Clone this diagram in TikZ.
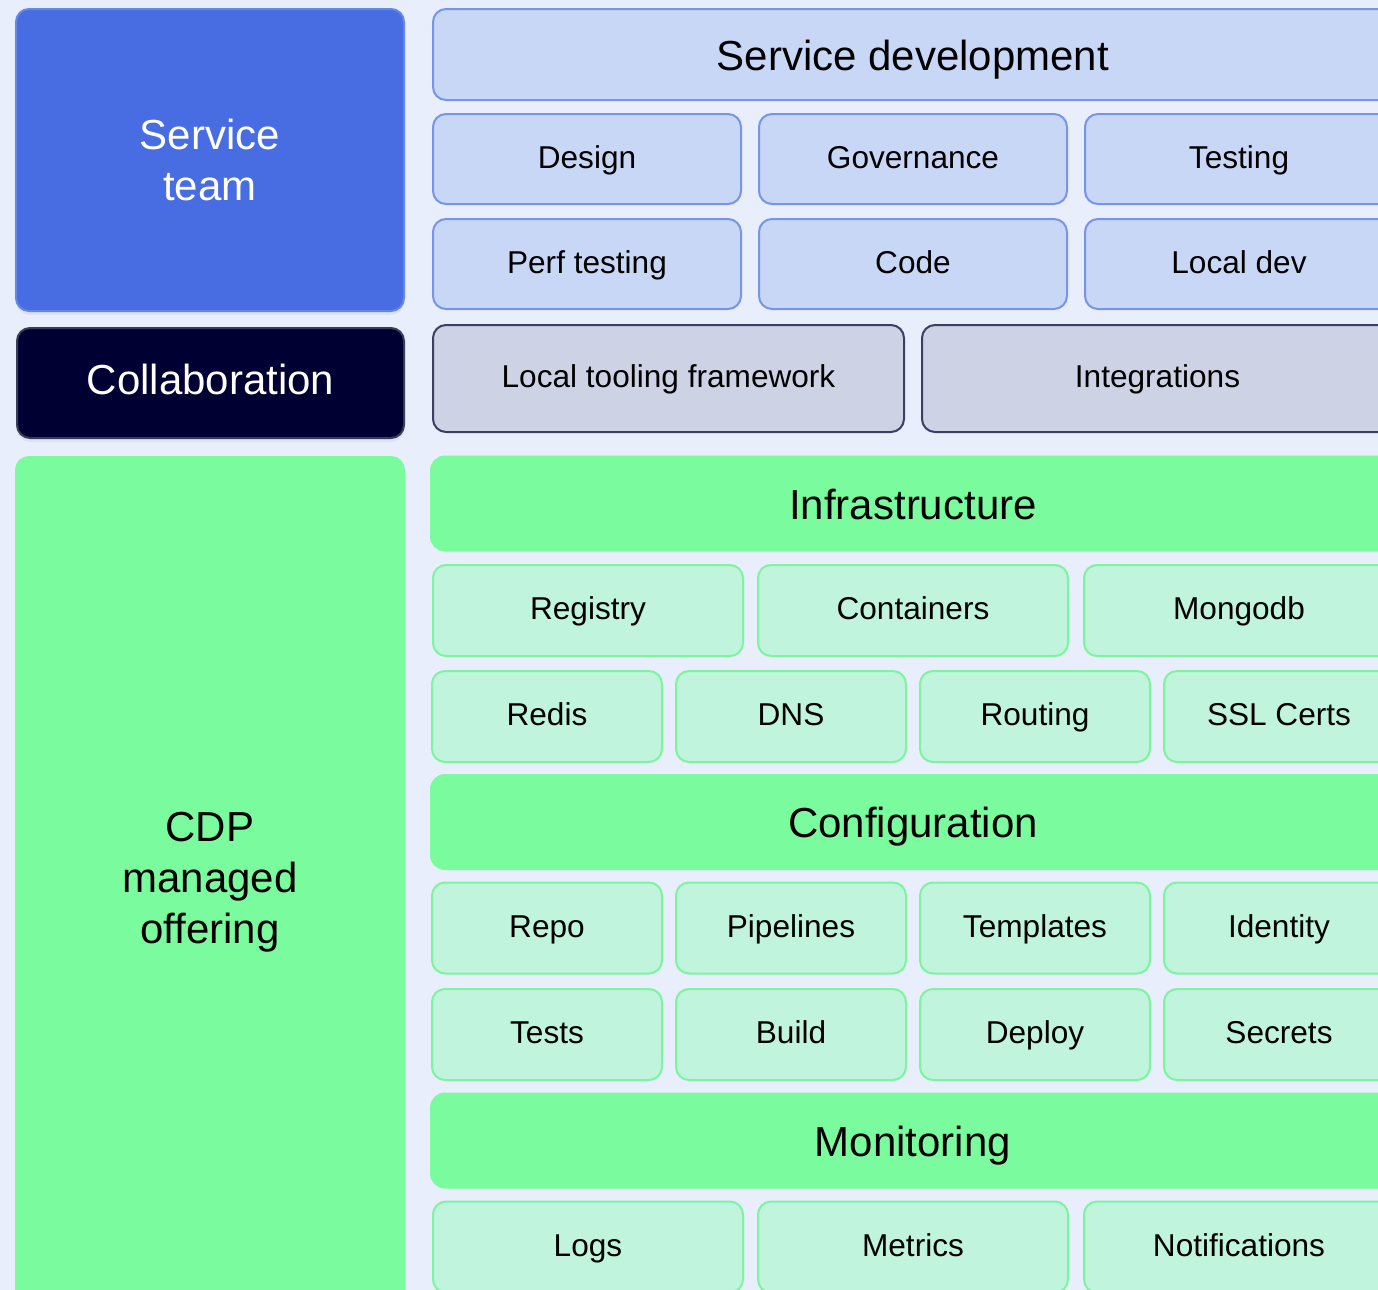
\documentclass[tikz,border=0pt]{standalone}
\usepackage{fontspec}
\setmainfont{Liberation Sans}
\usetikzlibrary{shadows}

\definecolor{pagebg}{HTML}{E8EEFB}
\definecolor{teamblue}{HTML}{486DE3}
\definecolor{teamedge}{HTML}{6486E6}
\definecolor{navy}{HTML}{000033}
\definecolor{navyedge}{HTML}{3A3C5C}
\definecolor{devfill}{HTML}{C9D7F7}
\definecolor{devedge}{HTML}{7794EB}
\definecolor{toolfill}{HTML}{CDD3E5}
\definecolor{tooledge}{HTML}{3B3F63}
\definecolor{cdpgreen}{HTML}{7AFC9E}
\definecolor{softgreen}{HTML}{C0F4DC}
\definecolor{greenedge}{HTML}{7CF59E}

\tikzset{
    base/.style={rectangle, rounded corners=6.5pt, line width=1pt, align=center, inner sep=0pt},
    bigfont/.style={font=\fontsize{21}{25.5}\selectfont},
    smallfont/.style={font=\fontsize{15.8}{19}\selectfont},
    bigline/.style={bigfont, text height=19.3pt, text depth=3.8pt},
    smallline/.style={smallfont, text height=13.2pt, text depth=3.8pt},
    sideshadow/.style={drop shadow={shadow xshift=0pt, shadow yshift=-2pt, opacity=0.1}},
    teambox/.style={base, sideshadow, fill=teamblue, draw=teamedge, text=white, bigfont},
    collabbox/.style={base, sideshadow, fill=navy, draw=navyedge, text=white, bigfont, text height=14.9pt, text depth=3.8pt},
    cdpbox/.style={base, sideshadow, fill=cdpgreen, draw=cdpgreen, text=black, bigfont},
    devhead/.style={base, fill=devfill, draw=devedge, bigline},
    devitem/.style={base, fill=devfill, draw=devedge, smallline, minimum width=154pt, minimum height=45pt},
    toolitem/.style={base, fill=toolfill, draw=tooledge, smallline, minimum width=235.5pt, minimum height=53.5pt},
    grouphead/.style={base, rounded corners=7pt, fill=cdpgreen, draw=cdpgreen, bigline, minimum width=482pt, minimum height=47pt},
    wideitem/.style={base, fill=softgreen, draw=greenedge, smallline, minimum width=155pt, minimum height=45.5pt},
    narrowitem/.style={base, fill=softgreen, draw=greenedge, smallline, minimum width=115pt, minimum height=45.5pt}
}

\begin{document}
\begin{tikzpicture}[x=0.5pt, y=-0.5pt]
    \useasboundingbox (0,0) rectangle (1378,1290);
    \clip (0,0) rectangle (1378,1290);
    \fill[pagebg] (0,0) rectangle (1378,1290);

    % Left column
    \node[teambox, minimum width=194pt, minimum height=151pt] (team) at (210,160) {Service\\team};
    \node[collabbox, minimum width=193.5pt, minimum height=55pt] (collab) at (210.5,383) {Collaboration};
    \node[cdpbox, minimum width=194pt, minimum height=425pt] (cdp) at (210,882) {CDP\\managed\\offering};

    % Service development
    \node[devhead, minimum width=480pt, minimum height=45.5pt] (devhead) at (913,54.5) {Service development};
    \node[devitem] (design) at (587,159) {Design};
    \node[devitem] (governance) at (913,159) {Governance};
    \node[devitem] (testing) at (1239,159) {Testing};
    \node[devitem] (perf) at (587,264) {Perf testing};
    \node[devitem] (code) at (913,264) {Code};
    \node[devitem] (localdev) at (1239,264) {Local dev};

    % Tooling
    \node[toolitem] (tooling) at (668.5,378.5) {Local tooling framework};
    \node[toolitem] (integrations) at (1157.5,378.5) {Integrations};

    % Infrastructure
    \node[grouphead] (infra) at (913,503.5) {Infrastructure};
    \node[wideitem] (registry) at (588,610.5) {Registry};
    \node[wideitem] (containers) at (913,610.5) {Containers};
    \node[wideitem] (mongodb) at (1239,610.5) {Mongodb};
    \node[narrowitem] (redis) at (547,716.5) {Redis};
    \node[narrowitem] (dns) at (791,716.5) {DNS};
    \node[narrowitem] (routing) at (1035,716.5) {Routing};
    \node[narrowitem] (ssl) at (1279,716.5) {SSL Certs};

    % Configuration
    \node[grouphead] (config) at (913,822) {Configuration};
    \node[narrowitem] (repo) at (547,928) {Repo};
    \node[narrowitem] (pipelines) at (791,928) {Pipelines};
    \node[narrowitem] (templates) at (1035,928) {Templates};
    \node[narrowitem] (identity) at (1279,928) {Identity};
    \node[narrowitem] (tests) at (547,1034.5) {Tests};
    \node[narrowitem] (build) at (791,1034.5) {Build};
    \node[narrowitem] (deploy) at (1035,1034.5) {Deploy};
    \node[narrowitem] (secrets) at (1279,1034.5) {Secrets};

    % Monitoring
    \node[grouphead] (monitoring) at (913,1140.5) {Monitoring};
    \node[wideitem] (logs) at (588,1247) {Logs};
    \node[wideitem] (metrics) at (913,1247) {Metrics};
    \node[wideitem] (notifications) at (1239,1247) {Notifications};
\end{tikzpicture}
\end{document}
